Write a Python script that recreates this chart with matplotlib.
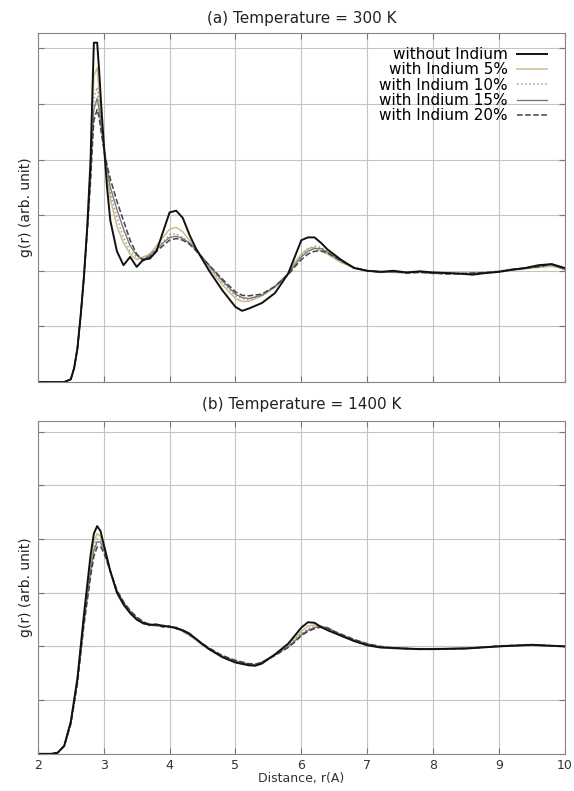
import matplotlib
matplotlib.use("Agg")
import matplotlib.pyplot as plt

# ---- data (g(r), arbitrary units) ----
labels = ['without Indium', 'with Indium 5%', 'with Indium 10%',
          'with Indium 15%', 'with Indium 20%']

r_300 = [2.0, 2.4, 2.5, 2.55, 2.6, 2.65, 2.7, 2.75, 2.8, 2.83,
         2.85, 2.9, 2.93, 2.96, 3.0, 3.05, 3.1, 3.2, 3.3, 3.4,
         3.5, 3.6, 3.7, 3.8, 3.9, 4.0, 4.1, 4.2, 4.3, 4.4,
         4.6, 4.8, 5.0, 5.1, 5.2, 5.4, 5.6, 5.8, 5.9, 6.0,
         6.1, 6.2, 6.3, 6.4, 6.6, 6.8, 7.0, 7.2, 7.4, 7.6,
         7.8, 8.0, 8.2, 8.4, 8.6, 8.8, 9.0, 9.2, 9.4, 9.6,
         9.8, 10.0]

g300_0 = [0, 0, 0.05, 0.25, 0.6, 1.2, 1.9, 2.8, 4.0, 5.3,
          6.1, 6.1, 5.6, 5.0, 4.3, 3.5, 2.9, 2.35, 2.1, 2.25,
          2.07, 2.2, 2.22, 2.35, 2.7, 3.05, 3.08, 2.95, 2.65, 2.4,
          2.0, 1.65, 1.35, 1.28, 1.32, 1.42, 1.6, 1.95, 2.25, 2.55,
          2.6, 2.6, 2.5, 2.38, 2.2, 2.05, 2.0, 1.98, 2.0, 1.97,
          1.99, 1.97, 1.96, 1.95, 1.93, 1.96, 1.98, 2.02, 2.05, 2.1,
          2.12, 2.05]
g300_5 = [0, 0, 0.05, 0.25, 0.6, 1.2, 1.95, 2.8, 3.9, 4.9,
          5.5, 5.65, 5.2, 4.7, 4.2, 3.7, 3.3, 2.8, 2.5, 2.3,
          2.2, 2.25, 2.3, 2.45, 2.6, 2.75, 2.78, 2.7, 2.55, 2.4,
          2.05, 1.75, 1.5, 1.45, 1.45, 1.55, 1.7, 1.95, 2.15, 2.3,
          2.4, 2.42, 2.35, 2.3, 2.15, 2.05, 2.0, 1.97, 1.98, 1.96,
          1.98, 1.95, 1.97, 1.94, 1.95, 1.97, 1.99, 2.0, 2.04, 2.06,
          2.08, 2.04]
g300_10 = [0, 0, 0.05, 0.25, 0.6, 1.2, 1.95, 2.8, 3.8, 4.6,
           5.1, 5.3, 5.0, 4.6, 4.2, 3.75, 3.4, 2.95, 2.6, 2.35,
           2.25, 2.22, 2.3, 2.4, 2.52, 2.65, 2.66, 2.6, 2.5, 2.38,
           2.08, 1.8, 1.55, 1.5, 1.48, 1.55, 1.72, 1.95, 2.12, 2.28,
           2.38, 2.45, 2.42, 2.35, 2.18, 2.05, 2.0, 1.98, 1.99, 1.96,
           1.97, 1.96, 1.95, 1.96, 1.94, 1.97, 2.0, 2.02, 2.05, 2.08,
           2.1, 2.03]
g300_15 = [0, 0, 0.05, 0.25, 0.6, 1.2, 1.9, 2.75, 3.7, 4.5,
           4.9, 5.1, 4.9, 4.6, 4.25, 3.85, 3.5, 3.1, 2.75, 2.45,
           2.28, 2.2, 2.28, 2.38, 2.5, 2.6, 2.62, 2.58, 2.5, 2.38,
           2.1, 1.82, 1.58, 1.52, 1.5, 1.56, 1.72, 1.95, 2.1, 2.25,
           2.35, 2.4, 2.4, 2.33, 2.18, 2.05, 2.0, 1.99, 1.97, 1.97,
           1.98, 1.95, 1.96, 1.94, 1.96, 1.96, 1.99, 2.03, 2.04, 2.08,
           2.11, 2.02]
g300_20 = [0, 0, 0.05, 0.25, 0.6, 1.2, 1.9, 2.7, 3.6, 4.3,
           4.7, 4.9, 4.75, 4.5, 4.2, 3.9, 3.65, 3.25, 2.9, 2.55,
           2.3, 2.18, 2.25, 2.35, 2.45, 2.55, 2.58, 2.55, 2.48, 2.36,
           2.1, 1.85, 1.62, 1.56, 1.55, 1.58, 1.72, 1.93, 2.07, 2.2,
           2.3, 2.35, 2.36, 2.32, 2.18, 2.06, 2.0, 1.98, 1.99, 1.96,
           1.97, 1.96, 1.94, 1.95, 1.96, 1.97, 1.98, 2.02, 2.05, 2.07,
           2.12, 2.04]

r_1400 = [2.0, 2.2, 2.3, 2.4, 2.5, 2.6, 2.7, 2.8, 2.85, 2.9,
          2.95, 3.0, 3.1, 3.2, 3.3, 3.4, 3.5, 3.6, 3.7, 3.8,
          3.9, 4.0, 4.1, 4.2, 4.3, 4.4, 4.5, 4.6, 4.8, 5.0,
          5.2, 5.3, 5.4, 5.6, 5.8, 5.9, 6.0, 6.1, 6.2, 6.3,
          6.4, 6.5, 6.6, 6.8, 7.0, 7.2, 7.4, 7.6, 7.8, 8.0,
          8.5, 9.0, 9.5, 10.0]

g1400_0 = [0, 0, 0.02, 0.15, 0.6, 1.4, 2.6, 3.7, 4.1, 4.24,
           4.15, 3.9, 3.4, 3.0, 2.78, 2.62, 2.5, 2.43, 2.4, 2.41,
           2.38, 2.37, 2.34, 2.3, 2.24, 2.14, 2.04, 1.95, 1.8, 1.7,
           1.65, 1.64, 1.68, 1.85, 2.05, 2.2, 2.35, 2.45, 2.44, 2.36,
           2.3, 2.25, 2.2, 2.1, 2.02, 1.98, 1.97, 1.96, 1.95, 1.95,
           1.96, 2.0, 2.03, 2.0]
g1400_5 = [0, 0, 0.02, 0.15, 0.6, 1.4, 2.55, 3.55, 3.95, 4.1,
           4.05, 3.85, 3.38, 3.0, 2.8, 2.63, 2.5, 2.42, 2.4, 2.38,
           2.4, 2.36, 2.35, 2.28, 2.22, 2.12, 2.02, 1.94, 1.8, 1.7,
           1.64, 1.65, 1.7, 1.86, 2.05, 2.15, 2.28, 2.38, 2.4, 2.35,
           2.32, 2.26, 2.2, 2.1, 2.03, 1.98, 1.96, 1.96, 1.94, 1.96,
           1.97, 2.0, 2.02, 2.0]
g1400_10 = [0, 0, 0.02, 0.15, 0.58, 1.35, 2.5, 3.45, 3.85, 4.0,
            3.98, 3.82, 3.4, 3.02, 2.8, 2.64, 2.52, 2.45, 2.38, 2.4,
            2.37, 2.38, 2.33, 2.3, 2.2, 2.12, 2.03, 1.95, 1.82, 1.72,
            1.66, 1.66, 1.7, 1.85, 2.02, 2.12, 2.24, 2.33, 2.37, 2.38,
            2.33, 2.27, 2.21, 2.12, 2.04, 1.99, 1.96, 1.95, 1.95, 1.94,
            1.96, 2.01, 2.03, 1.99]
g1400_15 = [0, 0, 0.02, 0.15, 0.58, 1.35, 2.45, 3.4, 3.78, 3.95,
            3.94, 3.8, 3.4, 3.03, 2.82, 2.66, 2.53, 2.45, 2.42, 2.38,
            2.39, 2.35, 2.36, 2.28, 2.21, 2.13, 2.05, 1.96, 1.82, 1.73,
            1.67, 1.66, 1.71, 1.84, 2.0, 2.1, 2.22, 2.3, 2.35, 2.37,
            2.35, 2.28, 2.22, 2.12, 2.05, 1.99, 1.97, 1.95, 1.96, 1.95,
            1.97, 2.0, 2.02, 2.0]
g1400_20 = [0, 0, 0.02, 0.14, 0.55, 1.3, 2.4, 3.3, 3.68, 3.85,
            3.86, 3.75, 3.4, 3.05, 2.83, 2.67, 2.55, 2.46, 2.4, 2.4,
            2.36, 2.37, 2.33, 2.3, 2.22, 2.14, 2.05, 1.97, 1.83, 1.74,
            1.68, 1.67, 1.7, 1.83, 1.98, 2.08, 2.2, 2.28, 2.33, 2.36,
            2.34, 2.28, 2.23, 2.13, 2.05, 2.0, 1.97, 1.96, 1.95, 1.95,
            1.96, 2.01, 2.03, 2.0]

colors = ['#111111', '#cdbb86', '#9a9a9a', '#7a7a7a', '#444444']
styles = ['-', '-', ':', '-', '--']
widths = [1.4, 1.1, 1.1, 1.0, 1.1]

fig = plt.figure(figsize=(5.74, 7.91), dpi=100)
ax1 = fig.add_axes([0.066, 0.517, 0.918, 0.441])
ax2 = fig.add_axes([0.066, 0.047, 0.918, 0.421])

panels = [(ax1, r_300, [g300_0, g300_5, g300_10, g300_15, g300_20], 6.27),
          (ax2, r_1400, [g1400_0, g1400_5, g1400_10, g1400_15, g1400_20], 6.2)]

for ax, r, curves, ytop in panels:
    # draw the reference (black) last so it sits on top
    for i in [1, 2, 3, 4, 0]:
        ax.plot(r, curves[i], linestyle=styles[i], color=colors[i],
                lw=widths[i], label=labels[i])
    ax.set_xlim(2, 10)
    ax.set_ylim(0, ytop)
    ax.set_xticks(range(2, 11))
    ax.set_yticks(range(0, 7))
    ax.set_yticklabels([])
    ax.grid(True, color='#c4c4c4', lw=0.8)
    ax.tick_params(direction='in', top=True, right=True, length=4,
                   color='#777777', labelsize=9, labelcolor='#333333')
    for s in ax.spines.values():
        s.set_color('#888888')
        s.set_linewidth(0.8)
    ax.set_ylabel('g(r) (arb. unit)', fontsize=10, color='#222222', labelpad=0)

ax1.set_xticklabels([])
ax2.set_xlabel('Distance, r(A)', fontsize=9, color='#333333', labelpad=0)

h, l = ax1.get_legend_handles_labels()
order = [4, 0, 1, 2, 3]
ax1.legend([h[k] for k in order], [l[k] for k in order], loc='upper right',
           frameon=False, markerfirst=False, fontsize=11, labelspacing=0.02,
           handlelength=2.0, handletextpad=0.6, borderaxespad=0.4,
           bbox_to_anchor=(0.99, 0.995))

fig.text(0.525, 0.977, '(a) Temperature = 300 K', ha='center', va='center',
         fontsize=11, color='#222222')
fig.text(0.525, 0.489, '(b) Temperature = 1400 K', ha='center', va='center',
         fontsize=11, color='#222222')

fig.savefig('out.png', dpi=100)
